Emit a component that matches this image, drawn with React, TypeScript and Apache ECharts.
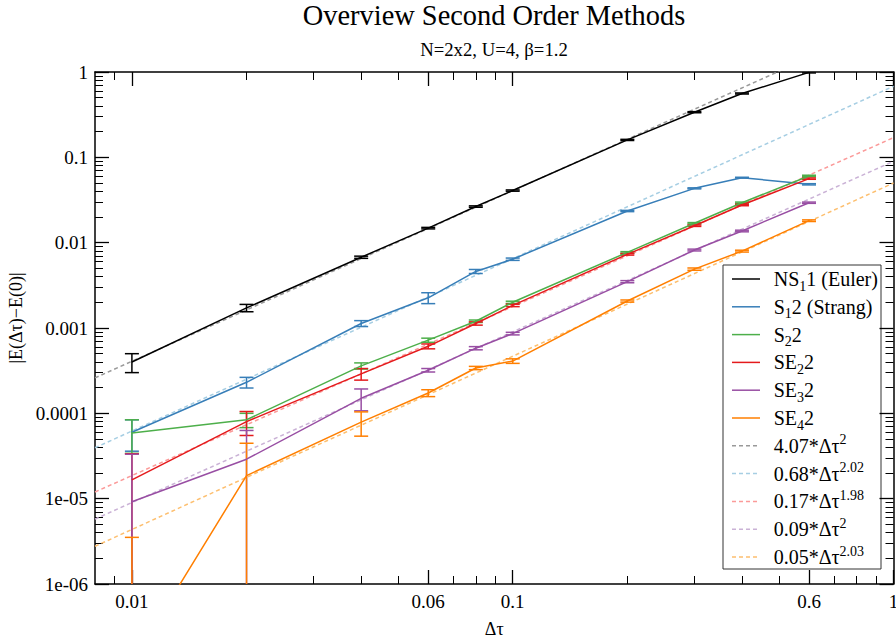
import React, { useEffect, useRef } from 'react';
import * as echarts from 'echarts';

// ---------- data ----------
const dtValues = [0.01, 0.02, 0.04, 0.06, 0.08, 0.1, 0.2, 0.3, 0.4, 0.6];

const methodNames = ['NS1 1 (Euler)', 'S1 2 (Strang)', 'S2 2', 'SE2 2', 'SE3 2', 'SE4 2'];
const methodLabelParts = [
  ['NS', '1', '1 (Euler)'],
  ['S', '1', '2 (Strang)'],
  ['S', '2', '2'],
  ['SE', '2', '2'],
  ['SE', '3', '2'],
  ['SE', '4', '2'],
];
const methodColors = ['#000000', '#377eb8', '#4daf4a', '#e41a1c', '#984ea3', '#ff7f00'];

const valNS1 = [4.0e-4, 1.72e-3, 6.75e-3, 0.0148, 0.0265, 0.0408, 0.16, 0.338, 0.56, 0.99];
const errNS1 = [1.0e-4, 1.7e-4, 2.0e-4, 3.0e-4, 5.0e-4, 7.0e-4, 2.5e-3, 5.0e-3, 8.0e-3, 0.015];
const valS1 = [6.0e-5, 2.31e-4, 1.13e-3, 2.26e-3, 4.6e-3, 6.4e-3, 0.0235, 0.0433, 0.0578, 0.0483];
const errS1 = [2.4e-5, 3.3e-5, 9.0e-5, 3.3e-4, 2.5e-4, 2.0e-4, 4.0e-4, 6.0e-4, 6.0e-4, 8.0e-4];
const valS2 = [5.9e-5, 8.4e-5, 3.6e-4, 7.2e-4, 1.2e-3, 2.0e-3, 7.7e-3, 0.0169, 0.0294, 0.0605];
const errS2 = [2.5e-5, 1.6e-5, 3.0e-5, 4.0e-5, 4.0e-5, 6.0e-5, 1.5e-4, 3.0e-4, 5.0e-4, 1.2e-3];
const valSE2 = [1.66e-5, 8.0e-5, 2.9e-4, 6.1e-4, 1.13e-3, 1.84e-3, 7.3e-3, 0.0158, 0.0276, 0.0563];
const errSE2 = [1.7e-5, 2.5e-5, 4.5e-5, 4.0e-5, 5.0e-5, 6.0e-5, 1.5e-4, 3.0e-4, 5.0e-4, 1.0e-3];
const valSE3 = [9.2e-6, 2.9e-5, 1.5e-4, 3.2e-4, 5.8e-4, 8.6e-4, 3.49e-3, 8.2e-3, 0.0137, 0.0294];
const errSE3 = [2.4e-5, 3.4e-5, 4.3e-5, 1.5e-5, 2.5e-5, 3.0e-5, 1.0e-4, 2.0e-4, 3.0e-4, 5.0e-4];
const valSE4 = [1.2e-7, 1.86e-5, 7.9e-5, 1.73e-4, 3.4e-4, 4.1e-4, 2.07e-3, 4.9e-3, 7.96e-3, 0.0181];
const errSE4 = [3.4e-6, 2.6e-5, 2.5e-5, 1.6e-5, 1.5e-5, 2.5e-5, 6.0e-5, 1.5e-4, 2.0e-4, 4.0e-4];

const methodValues = [valNS1, valS1, valS2, valSE2, valSE3, valSE4];
const methodErrors = [errNS1, errS1, errS2, errSE2, errSE3, errSE4];

const fitCoefs = [4.07, 0.68, 0.17, 0.09, 0.05];
const fitExps = [2, 2.02, 1.98, 2, 2.03];
const fitCoefLabels = ['4.07', '0.68', '0.17', '0.09', '0.05'];
const fitExpLabels = ['2', '2.02', '1.98', '2', '2.03'];
const fitNames = ['4.07*Δτ^2', '0.68*Δτ^2.02', '0.17*Δτ^1.98', '0.09*Δτ^2', '0.05*Δτ^2.03'];
const fitColors = ['#999999', '#a6cee3', '#fb9a99', '#cab2d6', '#fdbf6f'];

const xRange = [0.008, 1];
const yRange = [1e-6, 1];

const xMajorTicks = [0.01, 0.06, 0.1, 0.6, 1];
const xTickLabels = ['0.01', '0.06', '0.1', '0.6', '1'];
const xMinorTicks = [0.009, 0.02, 0.03, 0.04, 0.05, 0.07, 0.08, 0.09, 0.2, 0.3, 0.4, 0.5, 0.7, 0.8, 0.9];
const yMajorTicks = [1e-6, 1e-5, 1e-4, 1e-3, 1e-2, 1e-1, 1];
const yTickLabels = ['1e-06', '1e-05', '0.0001', '0.001', '0.01', '0.1', '1'];
const yMinorMultipliers = [2, 3, 4, 5, 6, 7, 8, 9];

const FONT = 'Liberation Serif';

// ---------- helpers ----------
const L = (v: number) => Math.log10(v);
const xMin = L(xRange[0]);
const xMax = L(xRange[1]);
const yMin = L(yRange[0]);
const yMax = L(yRange[1]);

const yMinorTicks: number[] = [];
for (let i = 0; i < yMajorTicks.length - 1; i++) {
  for (const m of yMinorMultipliers) yMinorTicks.push(yMajorTicks[i] * m);
}

const labelFor = (ticks: number[], labels: string[]) => (v: number) => {
  const i = ticks.findIndex((t) => Math.abs(L(t) - v) < 1e-6);
  return i >= 0 ? labels[i] : '';
};

function makeAxis(kind: 'x' | 'y', position: string, major: boolean, showLabel: boolean) {
  const isX = kind === 'x';
  const range = isX ? [xMin, xMax] : [yMin, yMax];
  const ticks = isX ? (major ? xMajorTicks : xMinorTicks) : (major ? yMajorTicks : yMinorTicks);
  const axis: any = {
    type: 'value',
    gridIndex: 0,
    position,
    min: range[0],
    max: range[1],
    scale: true,
    splitLine: { show: false },
    axisLine: { show: major, onZero: false, lineStyle: { color: '#000', width: 1.5 } },
    axisTick: {
      show: true,
      inside: true,
      length: major ? 14 : 8,
      customValues: ticks.map(L),
      lineStyle: { color: '#000', width: major ? 1.3 : 1 },
    },
    axisLabel: { show: false },
  };
  if (showLabel) {
    const majorT = isX ? xMajorTicks : yMajorTicks;
    const labs = isX ? xTickLabels : yTickLabels;
    axis.axisLabel = {
      show: true,
      customValues: majorT.map(L),
      formatter: labelFor(majorT, labs),
      fontFamily: FONT,
      fontSize: 19,
      color: '#000',
      margin: isX ? 8 : 7,
    };
  }
  return axis;
}

function errorBarData(vals: number[], errs: number[]) {
  return dtValues.map((x, i) => {
    const hi = vals[i] + errs[i];
    const lo = vals[i] - errs[i];
    const logHi = Math.min(L(hi), yMax);
    const capHi = L(hi) <= yMax ? 1 : 0;
    const loOk = lo > yRange[0];
    const logLo = loOk ? L(lo) : yMin;
    return [L(x), logLo, logHi, loOk ? 1 : 0, capHi];
  });
}

// legend box geometry (pixels)
const LEG = { x: 723, y: 265, w: 158, h: 304, first: 14, step: 27.8, lineX1: 9, lineX2: 37, textX: 50.7 };

const RICH = {
  a: { fontFamily: FONT, fontSize: 20, fill: '#000', lineHeight: 20 },
  s: { fontFamily: FONT, fontSize: 14, fill: '#000', lineHeight: 20, padding: [14, 0, 0, 0] },
  p: { fontFamily: FONT, fontSize: 14, fill: '#000', lineHeight: 20, padding: [0, 0, 12, 0] },
};

function buildLegend() {
  const entries: { label: string; color: string; dashed: boolean }[] = [];
  methodNames.forEach((_, k) => {
    const [a, s, t] = methodLabelParts[k];
    entries.push({ label: `{a|${a}}{s|${s}}{a|${t}}`, color: methodColors[k], dashed: false });
  });
  fitNames.forEach((_, k) => {
    entries.push({ label: `{a|${fitCoefLabels[k]}*Δτ}{p|${fitExpLabels[k]}}`, color: fitColors[k], dashed: true });
  });
  const children: any[] = [
    {
      type: 'rect',
      shape: { x: 0, y: 0, width: LEG.w, height: LEG.h },
      style: { fill: '#ffffff', stroke: '#333333', lineWidth: 1 },
    },
  ];
  entries.forEach((e, k) => {
    const cy = LEG.first + LEG.step * k;
    children.push({
      type: 'line',
      shape: { x1: LEG.lineX1, y1: cy, x2: LEG.lineX2, y2: cy },
      style: { stroke: e.color, lineWidth: 1.5, lineDash: e.dashed ? [4, 3] : null },
    });
    children.push({
      type: 'text',
      x: LEG.textX,
      y: cy,
      style: {
        text: e.label,
        rich: RICH,
        fontFamily: FONT,
        fontSize: 20,
        fill: '#000',
        align: 'left',
        verticalAlign: 'middle',
      },
    });
  });
  return { type: 'group', x: LEG.x, y: LEG.y, z: 100, children };
}

function buildOption() {
  const series: any[] = [];

  fitNames.forEach((name, k) => {
    const pts = xRange.map((x) => [L(x), L(fitCoefs[k]) + fitExps[k] * L(x)]);
    series.push({
      name,
      type: 'line',
      data: pts,
      symbol: 'none',
      clip: true,
      z: 1,
      lineStyle: { color: fitColors[k], width: 1.5, type: [4, 3] },
      itemStyle: { color: fitColors[k] },
    });
  });

  methodNames.forEach((name, k) => {
    const color = methodColors[k];
    series.push({
      name,
      type: 'line',
      data: dtValues.map((x, i) => [L(x), L(methodValues[k][i])]),
      symbol: 'none',
      clip: true,
      z: 2,
      lineStyle: { color, width: 1.5 },
      itemStyle: { color },
    });
    series.push({
      name: name + ' err',
      type: 'custom',
      z: 2,
      data: errorBarData(methodValues[k], methodErrors[k]),
      encode: { x: 0, y: [1, 2] },
      renderItem: (params: any, api: any) => {
        const x = api.value(0);
        const pLo = api.coord([x, api.value(1)]);
        const pHi = api.coord([x, api.value(2)]);
        const hw = 7;
        const style = { stroke: color, lineWidth: 1.5, fill: 'none' };
        const children: any[] = [
          { type: 'line', shape: { x1: pLo[0], y1: pLo[1], x2: pHi[0], y2: pHi[1] }, style },
        ];
        if (api.value(4)) {
          children.push({ type: 'line', shape: { x1: pHi[0] - hw, y1: pHi[1], x2: pHi[0] + hw, y2: pHi[1] }, style });
        }
        if (api.value(3)) {
          children.push({ type: 'line', shape: { x1: pLo[0] - hw, y1: pLo[1], x2: pLo[0] + hw, y2: pLo[1] }, style });
        }
        return { type: 'group', children };
      },
    });
  });

  return {
    animation: false,
    backgroundColor: '#ffffff',
    textStyle: { fontFamily: FONT },
    title: {
      text: 'Overview Second Order Methods',
      subtext: 'N=2x2, U=4, β=1.2',
      left: 494,
      top: 1,
      padding: 0,
      textAlign: 'center',
      itemGap: 11,
      textStyle: { fontFamily: FONT, fontSize: 28.4, fontWeight: 'normal', color: '#000', lineHeight: 28 },
      subtextStyle: { fontFamily: FONT, fontSize: 18.7, color: '#000', lineHeight: 18 },
    },
    grid: {
      left: 95,
      right: 2.5,
      top: 72,
      bottom: 56,
      containLabel: false,
      outerBoundsMode: 'none',
    },
    xAxis: [
      {
        ...makeAxis('x', 'bottom', true, true),
        name: 'Δτ',
        nameLocation: 'middle',
        nameGap: 36,
        nameTextStyle: { fontFamily: FONT, fontSize: 18, color: '#000' },
      },
      makeAxis('x', 'bottom', false, false),
      makeAxis('x', 'top', true, false),
      makeAxis('x', 'top', false, false),
    ],
    yAxis: [
      {
        ...makeAxis('y', 'left', true, true),
        name: '|E(Δτ)−E(0)|',
        nameLocation: 'middle',
        nameGap: 63,
        nameRotate: 90,
        nameTextStyle: { fontFamily: FONT, fontSize: 18, color: '#000', padding: [0, 0, 0, 20] },
      },
      makeAxis('y', 'left', false, false),
      makeAxis('y', 'right', true, false),
      makeAxis('y', 'right', false, false),
    ],
    graphic: [buildLegend()],
    series,
  };
}

export default function App() {
  const ref = useRef<HTMLDivElement>(null);
  useEffect(() => {
    if (!ref.current) return;
    const chart = echarts.init(ref.current, undefined, { renderer: 'svg' });
    chart.setOption(buildOption() as any);
    return () => chart.dispose();
  }, []);
  return (
    <div
      ref={ref}
      style={{ position: 'absolute', left: 0, top: 0, width: 896, height: 640, background: '#fff' }}
    />
  );
}
